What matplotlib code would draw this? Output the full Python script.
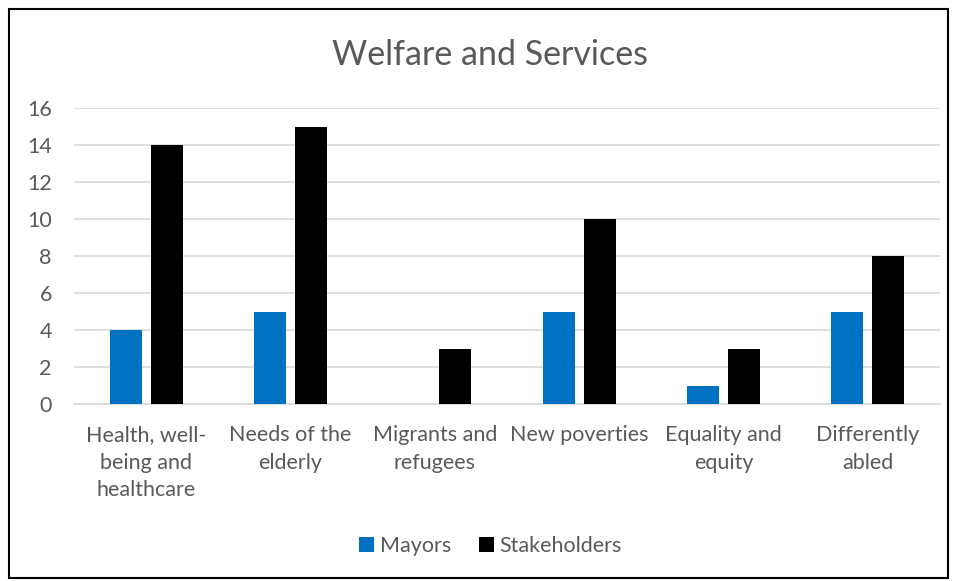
import matplotlib
matplotlib.use('Agg')
import matplotlib.pyplot as plt
import numpy as np
from matplotlib.patches import Rectangle

categories = ['Health, well-\nbeing and\nhealthcare', 'Needs of the\nelderly',
              'Migrants and\nrefugees', 'New poverties', 'Equality and\nequity',
              'Differently\nabled']
mayors = [4, 5, 0, 5, 1, 5]
stakeholders = [14, 15, 3, 10, 3, 8]
yticks = [0, 2, 4, 6, 8, 10, 12, 14, 16]

TEXT, GRID = '#595959', '#d9d9d9'
BLUE, BLACK = '#0070c0', '#000000'
plt.rcParams['font.family'] = ['Lato', 'DejaVu Sans']

fig = plt.figure(figsize=(9.58, 5.81), dpi=100)
ax = fig.add_axes([74 / 958, 1 - 404 / 581, 866 / 958, 296 / 581])

x = np.arange(len(categories))
w = 0.222
ax.bar(x - 0.142, mayors, w, color=BLUE, label='Mayors', zorder=3)
ax.bar(x + 0.142, stakeholders, w, color=BLACK, label='Stakeholders', zorder=3)

ax.set_xlim(-0.5, len(categories) - 0.5)
ax.set_ylim(0, 16)
ax.set_yticks(yticks)
ax.set_xticks(x)
ax.set_xticklabels(categories, fontsize=15.5, color=TEXT, linespacing=1.48)
ax.tick_params(axis='y', length=0, pad=16, labelsize=15.5, labelcolor=TEXT)
ax.tick_params(axis='x', length=0, pad=15)
ax.grid(axis='y', color=GRID, lw=1.2, zorder=0)
for s in ('top', 'right', 'left'):
    ax.spines[s].set_visible(False)
ax.spines['bottom'].set_color(GRID)
ax.spines['bottom'].set_linewidth(1.2)

fig.text(0.511, 1 - 55 / 581, 'Welfare and Services', ha='center', va='center',
         fontsize=24.5, color=TEXT)
fig.legend(loc='center', bbox_to_anchor=(0.512, 1 - 546 / 581), ncol=2,
           frameon=False, fontsize=15.5, labelcolor=TEXT, handlelength=0.7,
           handleheight=0.7, handletextpad=0.25, columnspacing=1.3)

# outer chart border
fig.patches.append(Rectangle((9 / 958, 3 / 581), 939 / 958, 569 / 581,
                             transform=fig.transFigure, fill=False,
                             edgecolor='black', lw=1.5))

fig.savefig('out.png', dpi=100)
